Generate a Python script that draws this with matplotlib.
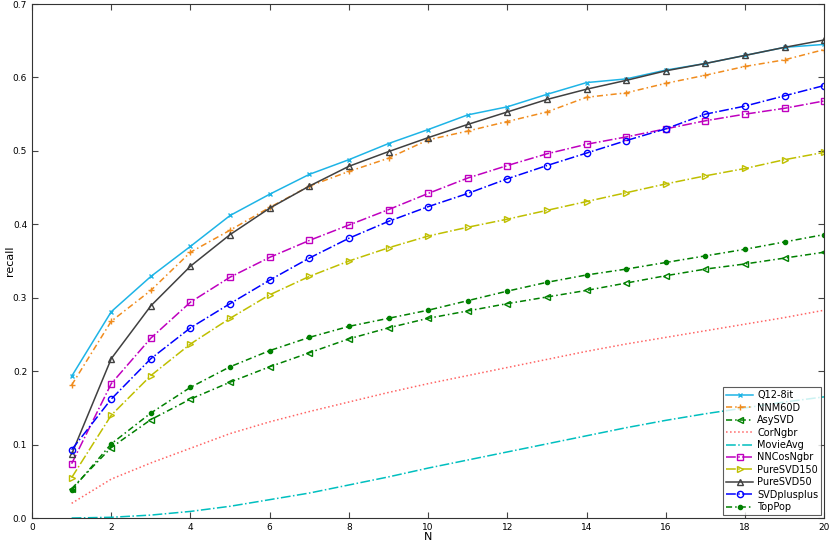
import matplotlib
matplotlib.use("Agg")
import matplotlib.pyplot as plt

N = list(range(1, 21))

q12_8it = [0.193, 0.281, 0.329, 0.370, 0.412, 0.441, 0.468, 0.488, 0.510, 0.529,
           0.549, 0.560, 0.577, 0.593, 0.598, 0.610, 0.619, 0.630, 0.641, 0.645]
nnm60d = [0.181, 0.268, 0.310, 0.362, 0.392, 0.423, 0.452, 0.472, 0.490, 0.515,
          0.527, 0.540, 0.553, 0.573, 0.579, 0.592, 0.603, 0.615, 0.624, 0.638]
asysvd = [0.040, 0.096, 0.134, 0.162, 0.185, 0.206, 0.225, 0.244, 0.259, 0.272,
          0.282, 0.292, 0.301, 0.310, 0.320, 0.330, 0.339, 0.346, 0.354, 0.362]
corngbr = [0.020, 0.053, 0.075, 0.095, 0.115, 0.131, 0.145, 0.158, 0.171, 0.183,
           0.194, 0.205, 0.216, 0.227, 0.237, 0.246, 0.255, 0.264, 0.273, 0.283]
movieavg = [0.000, 0.001, 0.004, 0.009, 0.016, 0.025, 0.034, 0.045, 0.056, 0.068,
            0.079, 0.090, 0.101, 0.112, 0.123, 0.133, 0.142, 0.150, 0.158, 0.165]
nncosngbr = [0.074, 0.183, 0.245, 0.294, 0.328, 0.355, 0.378, 0.399, 0.420, 0.442,
             0.463, 0.480, 0.496, 0.509, 0.519, 0.530, 0.541, 0.550, 0.558, 0.568]
puresvd150 = [0.055, 0.140, 0.194, 0.237, 0.272, 0.304, 0.329, 0.350, 0.368, 0.384,
              0.396, 0.407, 0.419, 0.431, 0.443, 0.455, 0.466, 0.476, 0.488, 0.498]
puresvd50 = [0.087, 0.217, 0.289, 0.343, 0.386, 0.422, 0.452, 0.479, 0.499, 0.518,
             0.536, 0.553, 0.570, 0.584, 0.596, 0.609, 0.619, 0.630, 0.641, 0.651]
svdplusplus = [0.093, 0.162, 0.217, 0.259, 0.292, 0.324, 0.354, 0.381, 0.404, 0.424,
               0.442, 0.462, 0.480, 0.497, 0.514, 0.530, 0.550, 0.561, 0.575, 0.589]
toppop = [0.038, 0.101, 0.143, 0.178, 0.206, 0.228, 0.246, 0.261, 0.272, 0.283,
          0.296, 0.309, 0.321, 0.331, 0.339, 0.348, 0.357, 0.366, 0.376, 0.386]

# label, data, color, linestyle, marker, marker fill, marker size
SERIES = [
    ("Q12-8it", q12_8it, "#1eb4e6", "-", "x", "full", 3),
    ("NNM60D", nnm60d, "#f08c1e", (0, (4, 2, 1, 2)), "+", "full", 4.5),
    ("AsySVD", asysvd, "#008000", (0, (4, 2, 1, 2)), "<", "none", 4.5),
    ("CorNgbr", corngbr, "#ff6464", ":", None, "full", 4),
    ("MovieAvg", movieavg, "#00bfbf", "-.", None, "full", 4),
    ("NNCosNgbr", nncosngbr, "#bf00bf", "-.", "s", "none", 4),
    ("PureSVD150", puresvd150, "#bfbf00", "-.", ">", "none", 4.5),
    ("PureSVD50", puresvd50, "#404040", "-", "^", "none", 4.5),
    ("SVDplusplus", svdplusplus, "#0000ff", "-.", "o", "none", 4.5),
    ("TopPop", toppop, "#008000", (0, (4, 2, 1, 2)), ".", "full", 6),
]

fig = plt.figure(figsize=(8.3, 5.43), dpi=100)
ax = fig.add_axes([0.0386, 0.046, 0.9544, 0.9466])

for label, data, color, ls, marker, fill, ms in SERIES:
    ax.plot(N, data, color=color, linestyle=ls, marker=marker, fillstyle=fill,
            markersize=ms, linewidth=1.1, label=label)

ax.set_xlim(0, 20)
ax.set_ylim(0, 0.7)
ax.set_xticks(range(0, 21, 2))
ax.set_yticks([i / 10 for i in range(8)])
ax.tick_params(direction="in", top=True, right=True, labelsize=6.5, length=4, color="#444444")
for s in ax.spines.values():
    s.set_color("#333333")
    s.set_linewidth(0.8)
ax.set_xlabel("N", fontsize=8, labelpad=0)
ax.set_ylabel("recall", fontsize=8)
ax.yaxis.set_label_coords(-0.021, 0.5)

leg = ax.legend(loc="lower right", fontsize=7, frameon=True, fancybox=False,
                borderaxespad=0.3, handlelength=2.8, labelspacing=0.25,
                borderpad=0.3, handletextpad=0.4)
leg.get_frame().set_edgecolor("#333333")
leg.get_frame().set_linewidth(0.8)

fig.savefig("out.png", dpi=100)
